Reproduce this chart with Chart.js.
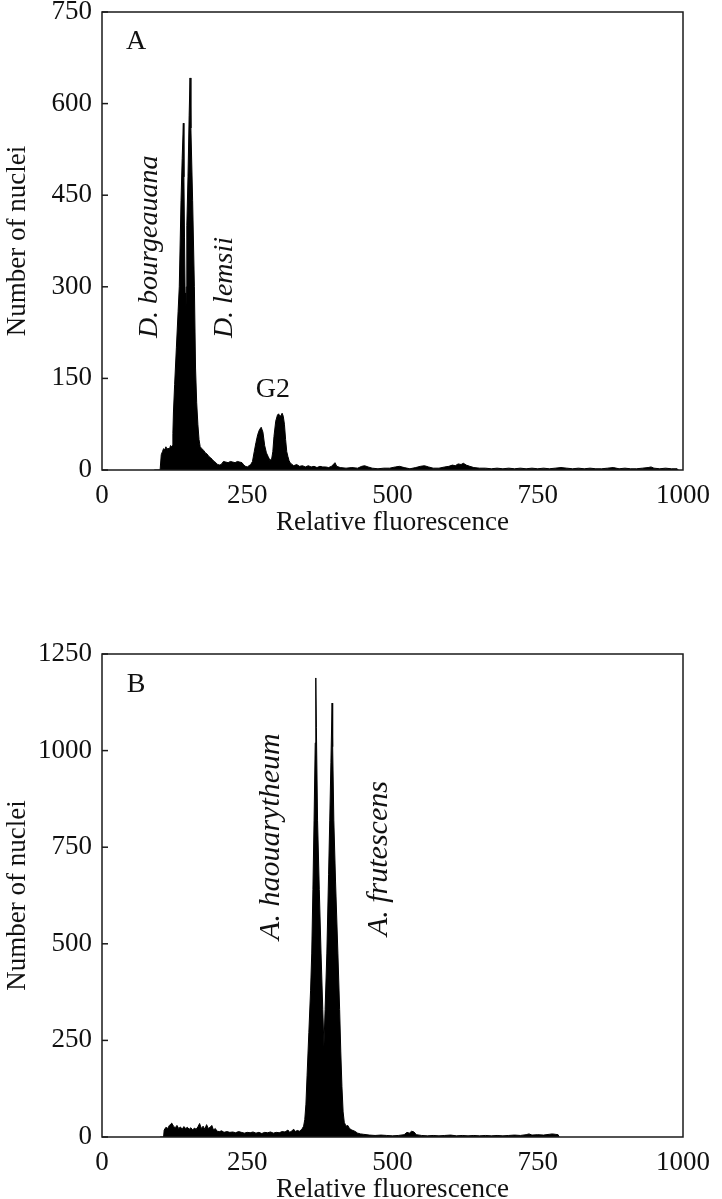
<!DOCTYPE html>
<html>
<head>
<meta charset="utf-8">
<script src="https://cdn.jsdelivr.net/npm/chart.js@4.4.0/dist/chart.umd.min.js"></script>
<style>
  body { margin: 0; background: #fff; overflow: hidden; }
  canvas { position: absolute; left: 0; }
</style>
</head>
<body>
<canvas id="chartA" width="722" height="538" style="top:-2px"></canvas>
<canvas id="chartB" width="722" height="563" style="top:640px"></canvas>
<script>
// Panel A: D. bourgeauana + D. lemsii
const xsA = [90, 100, 102, 104, 106, 108, 110, 112, 114, 116, 118, 120, 121, 122, 123, 125, 128, 131, 133, 136, 138, 140,
  141, 142, 143, 144, 145, 146, 148, 150, 151.5, 153, 156, 159, 161, 163, 165, 167, 169, 172, 175, 178, 181, 184, 187,
  190, 193, 196, 199, 203, 206, 209, 213, 217, 221, 225, 229, 233, 237, 241, 244, 247, 250, 253, 256, 259, 262, 265,
  268, 271, 274, 277, 280, 283, 286, 289, 292, 294, 296, 299, 302, 304, 306, 308, 310, 312, 314, 316, 318, 320, 322,
  324, 327, 330, 335, 340, 345, 350, 355, 360, 365, 370, 375, 380, 385, 390, 395, 399, 401, 404, 410, 420, 430, 440,
  447, 452, 458, 465, 475, 485, 495, 505, 512, 520, 530, 540, 548, 555, 562, 570, 580, 590, 597, 603, 608, 613, 618,
  622, 627, 633, 640, 650, 660, 670, 680, 690, 700, 710, 720, 730, 740, 750, 760, 770, 780, 790, 800, 810, 820, 830,
  840, 850, 860, 870, 880, 890, 900, 910, 920, 930, 940, 945, 950, 960, 970, 980, 990, 992];
const ysA = [0, 0, 25, 30, 35, 33, 38, 34, 36, 34, 40, 38, 40, 60, 95, 140, 200, 260, 300, 441, 510, 568,
  480, 380, 290, 223, 300, 400, 480, 580, 642, 560, 441, 300, 167, 110, 75, 50, 38, 35, 32, 28, 26, 22, 20,
  17, 14, 12, 9, 8, 10, 14, 13, 12, 14, 13, 12, 14, 13, 12, 8, 6, 5, 7, 9, 14, 30, 45,
  58, 66, 70, 62, 40, 28, 22, 16, 18, 30, 55, 80, 90, 92, 88, 89, 93, 88, 75, 50, 30, 22, 15,
  12, 9, 7, 9, 6, 7, 5, 7, 5, 6, 4, 6, 5, 5, 4, 6, 10, 12, 6, 4, 3, 4, 3,
  6, 7, 5, 3, 2, 3, 3, 5, 6, 4, 2, 4, 6, 7, 5, 3, 3, 5, 6, 8, 7, 10, 9,
  11, 8, 6, 4, 3, 3, 2, 3, 2, 3, 2, 3, 2, 3, 2, 3, 2, 3, 4, 3, 2, 3, 2,
  3, 2, 2, 3, 4, 2, 3, 2, 2, 3, 4, 5, 3, 2, 3, 2, 2, 0];

// Panel B: A. haouarytheum + A. frutescens
const xsB = [100, 106, 107, 110, 113, 116, 118, 120, 123, 126, 129, 132, 135, 138, 141, 144, 147, 150, 153, 156, 159,
  162, 165, 168, 171, 174, 177, 180, 183, 186, 189, 192, 195, 198, 202, 206, 210, 215, 220, 225, 230, 235, 240, 245,
  250, 255, 260, 265, 270, 275, 280, 285, 290, 295, 300, 305, 310, 315, 320, 323, 326, 330, 333, 336, 340, 344, 347,
  349, 351, 353, 356, 359, 361, 363, 365, 367, 368, 369, 371, 374, 377, 380, 382, 384, 387, 390, 392, 394, 396, 397,
  399, 402, 406, 409, 411, 413, 415, 417, 420, 423, 426, 430, 435, 440, 445, 450, 460, 470, 480, 490, 500, 510, 520,
  525, 529, 533, 537, 541, 550, 560, 570, 580, 590, 600, 610, 620, 630, 640, 650, 660, 670, 680, 690, 700, 710, 720,
  730, 735, 740, 750, 760, 770, 775, 780, 785, 787];
const ysB = [0, 0, 18, 25, 22, 30, 33, 36, 28, 24, 30, 22, 26, 20, 27, 22, 25, 20, 24, 18, 23,
  20, 26, 35, 22, 28, 20, 32, 22, 25, 30, 18, 22, 15, 14, 16, 12, 14, 12, 13, 11, 14, 12, 10,
  12, 11, 13, 10, 12, 9, 12, 11, 13, 10, 12, 11, 14, 13, 18, 12, 15, 20, 14, 17, 15, 20, 28,
  45, 85, 160, 270, 380, 476, 640, 820, 1020, 1188, 1060, 820, 640, 476, 330, 235, 330, 476, 680, 820, 970, 1123, 1010,
  820, 660, 476, 330, 220, 130, 65, 38, 28, 30, 22, 18, 15, 10, 8, 7, 5, 4, 5, 4, 3, 4, 6,
  12, 10, 15, 13, 6, 4, 3, 4, 3, 4, 5, 3, 4, 3, 4, 3, 4, 3, 4, 3, 4, 5, 4,
  6, 8, 5, 6, 5, 7, 8, 7, 6, 0];

const xTicks = [0, 250, 500, 750, 1000];
const yTicksA = [0, 150, 300, 450, 600, 750];
const yTicksB = [0, 250, 500, 750, 1000, 1250];

const notesA = [
  { text: "A", x: 58.5, y: 702, size: 28 },
  { text: "D. bourgeauana", x: 95, y: 216, size: 28, italic: true, rotate: true },
  { text: "D. lemsii", x: 224, y: 216, size: 28, italic: true, rotate: true },
  { text: "G2", x: 294, y: 131, size: 28 }
];
const notesB = [
  { text: "B", x: 58.5, y: 1170, size: 28 },
  { text: "A. haouarytheum", x: 305, y: 510, size: 30, italic: true, rotate: true },
  { text: "A. frutescens", x: 490, y: 520, size: 30, italic: true, rotate: true }
];

const serif = '"Liberation Serif", "Times New Roman", serif';
const tickFont = { family: serif, size: 27, lineHeight: 1 };

// frame, inward y ticks and text labels
const decor = {
  id: "decor",
  afterDatasetsDraw(chart, args, opts) {
    const { ctx, chartArea: a, scales: { x, y } } = chart;
    ctx.save();
    ctx.strokeStyle = "#1a1a1a";
    ctx.lineWidth = 1.5;
    ctx.strokeRect(a.left, a.top, a.right - a.left, a.bottom - a.top);
    y.ticks.forEach(t => {
      const py = y.getPixelForValue(t.value);
      ctx.beginPath();
      ctx.moveTo(a.left, py);
      ctx.lineTo(a.left + 6, py);
      ctx.stroke();
    });
    ctx.fillStyle = "#111";
    opts.notes.forEach(n => {
      ctx.save();
      ctx.translate(x.getPixelForValue(n.x), y.getPixelForValue(n.y));
      ctx.font = (n.italic ? "italic " : "") + n.size + "px " + serif;
      if (n.rotate) {
        ctx.rotate(-Math.PI / 2);
        ctx.textAlign = "left";
        ctx.textBaseline = "alphabetic";
      } else {
        ctx.textAlign = "center";
        ctx.textBaseline = "middle";
      }
      ctx.fillText(n.text, 0, 0);
      ctx.restore();
    });
    ctx.restore();
  }
};

function makeChart(id, xs, ys, yTicks, notes, boxH) {
  const ctx = document.getElementById(id).getContext("2d");
  return new Chart(ctx, {
    type: "line",
    data: {
      datasets: [{
        data: xs.map((v, i) => ({ x: v, y: ys[i] })),
        borderColor: "#000",
        backgroundColor: "#000",
        borderWidth: 1,
        pointRadius: 0,
        tension: 0,
        fill: "origin"
      }]
    },
    options: {
      responsive: false,
      animation: false,
      devicePixelRatio: 1,
      layout: { padding: { left: 0, right: 39, top: 14, bottom: 0 } },
      plugins: {
        legend: { display: false },
        tooltip: { enabled: false },
        decor: { notes: notes }
      },
      scales: {
        x: {
          type: "linear",
          min: xTicks[0],
          max: xTicks[xTicks.length - 1],
          afterBuildTicks: s => { s.ticks = xTicks.map(v => ({ value: v })); },
          grid: { display: false },
          border: { display: false },
          ticks: { color: "#111", font: tickFont, padding: 4, maxRotation: 0, callback: v => String(v) },
          title: { display: true, text: "Relative fluorescence", color: "#111", font: tickFont, padding: { top: 0, bottom: 0 } },
          afterFit: s => { s.height = boxH; }
        },
        y: {
          min: yTicks[0],
          max: yTicks[yTicks.length - 1],
          afterBuildTicks: s => { s.ticks = yTicks.map(v => ({ value: v })); },
          grid: { display: true, drawOnChartArea: false, drawTicks: true, tickLength: 10, color: "rgba(0,0,0,0)" },
          border: { display: false },
          ticks: { color: "#111", font: tickFont, padding: 0, callback: v => String(v) },
          title: { display: true, text: "Number of nuclei", color: "#111", font: tickFont, padding: { top: 4, bottom: 0 } },
          afterFit: s => { s.width = 102; }
        }
      }
    },
    plugins: [decor]
  });
}

makeChart("chartA", xsA, ysA, yTicksA, notesA, 66);
makeChart("chartB", xsB, ysB, yTicksB, notesB, 66);
</script>
</body>
</html>
